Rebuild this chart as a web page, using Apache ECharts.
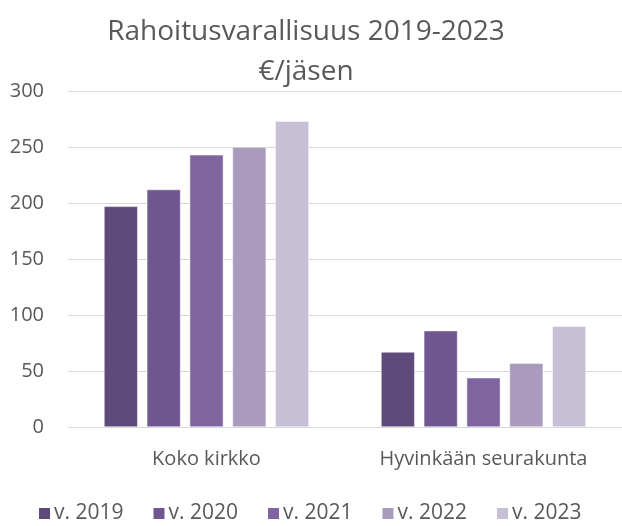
<!DOCTYPE html>
<html>
<head>
<meta charset="utf-8">
<script src="https://cdn.jsdelivr.net/npm/echarts@6/dist/echarts.min.js"></script>
<style>
  html, body { margin: 0; padding: 0; background: #fff; }
  #chart { width: 622px; height: 526px; }
</style>
</head>
<body>
<div id="chart"></div>
<script>
  // kategoriat ja sarjat
  var categories = ['Koko kirkko', 'Hyvinkään seurakunta'];
  var seriesNames = ['v. 2019', 'v. 2020', 'v. 2021', 'v. 2022', 'v. 2023'];
  var v2019 = [197, 67];
  var v2020 = [212, 86];
  var v2021 = [243, 44];
  var v2022 = [250, 57];
  var v2023 = [273, 90];
  var values = [v2019, v2020, v2021, v2022, v2023];
  var colors = ['#5F4B7A', '#6F5690', '#7F64A0', '#A99ABE', '#C7BFD6'];

  var font = '"Open Sans", "Liberation Sans", sans-serif';
  var myChart = echarts.init(document.getElementById('chart'));
  var option = {
    color: colors,
    animation: false,
    title: {
      text: 'Rahoitusvarallisuus 2019-2023\n€/jäsen',
      left: 301,
      textAlign: 'center',
      top: 7,
      textStyle: {
        color: '#595959',
        fontFamily: font,
        fontWeight: 'normal',
        fontSize: 28,
        lineHeight: 40
      }
    },
    legend: {
      top: 503,
      left: 37,
      icon: 'rect',
      itemWidth: 13,
      itemHeight: 13,
      itemGap: 28,
      padding: 0,
      textStyle: {
        color: '#595959',
        fontFamily: font,
        fontSize: 21,
        padding: [0, 0, 0, -2]
      },
      data: seriesNames
    },
    grid: {
      left: 68,
      right: 0,
      top: 91,
      bottom: 99
    },
    xAxis: {
      type: 'category',
      data: categories,
      axisTick: { show: false },
      axisLine: { lineStyle: { color: '#D9D9D9', width: 1 } },
      axisLabel: {
        color: '#595959',
        fontFamily: font,
        fontSize: 20,
        margin: 22
      }
    },
    yAxis: {
      type: 'value',
      min: 0,
      max: 300,
      interval: 50,
      axisLine: { show: false },
      axisTick: { show: false },
      splitLine: { lineStyle: { color: '#D9D9D9', width: 1 } },
      axisLabel: {
        color: '#595959',
        fontFamily: font,
        fontSize: 20,
        margin: 24
      }
    },
    series: []
  };
  seriesNames.forEach(function (name, i) {
    option.series.push({
      name: name,
      type: 'bar',
      data: values[i],
      barGap: '27%',
      barCategoryGap: '26%',
      itemStyle: { borderColor: '#fff', borderWidth: 0.5 }
    });
  });
  myChart.setOption(option);
</script>
</body>
</html>
